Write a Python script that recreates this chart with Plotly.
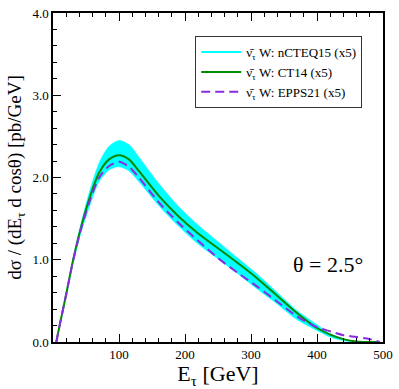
import plotly.graph_objects as go

# tau energy grid [GeV]
energy = [5, 10, 20, 30, 40, 55, 70, 85, 100, 115, 130, 160, 190, 220, 250,
          280, 310, 340, 370, 400, 420, 440, 460, 480, 495]

# nCTEQ15 band (x5), upper and lower edge
ncteq_upper = [0.0, 0.21, 0.60, 1.00, 1.36, 1.82, 2.18, 2.38, 2.45, 2.40, 2.25,
               1.93, 1.65, 1.42, 1.22, 1.02, 0.82, 0.60, 0.38, 0.21, 0.10, 0.04,
               0.0, 0.0, 0.0]
ncteq_lower = [0.0, 0.19, 0.56, 0.94, 1.26, 1.64, 1.95, 2.09, 2.13, 2.08, 1.95,
               1.66, 1.41, 1.19, 1.01, 0.83, 0.64, 0.46, 0.27, 0.14, 0.06, 0.015,
               0.0, 0.0, 0.0]

# CT14 (x5)
ct14 = [0.0, 0.20, 0.58, 0.98, 1.32, 1.74, 2.06, 2.22, 2.27, 2.22, 2.08,
        1.78, 1.53, 1.32, 1.14, 0.96, 0.77, 0.56, 0.35, 0.17, 0.09, 0.035,
        0.006, 0.0, 0.0]

# EPPS21 (x5)
epps21 = [0.0, 0.20, 0.58, 0.97, 1.30, 1.70, 2.00, 2.14, 2.19, 2.13, 2.00,
          1.70, 1.45, 1.23, 1.02, 0.84, 0.67, 0.49, 0.31, 0.18, 0.13, 0.083,
          0.06, 0.035, 0.0]

x_ticks = [100, 200, 300, 400, 500]
y_ticks = [0, 1, 2, 3, 4]
y_tick_labels = ['0.0', '1.0', '2.0', '3.0', '4.0']

FONT = 'Liberation Serif'
CYAN = '#00ffff'
GREEN = '#008b00'
PURPLE = '#8a2be2'

nubar = '\u03bd\u0304<sub>\u03c4</sub>'

fig = go.Figure()

# band: lower edge first, then upper edge filled down to it
fig.add_trace(go.Scatter(x=energy, y=ncteq_lower, mode='lines',
                         line=dict(color=CYAN, width=0.5, shape='spline', smoothing=0.8),
                         showlegend=False, hoverinfo='skip'))
fig.add_trace(go.Scatter(x=energy, y=ncteq_upper, mode='lines', fill='tonexty',
                         fillcolor=CYAN,
                         line=dict(color=CYAN, width=0.5, shape='spline', smoothing=0.8),
                         showlegend=False, hoverinfo='skip'))
# legend entry for the band, drawn as a line
fig.add_trace(go.Scatter(x=[None], y=[None], mode='lines',
                         line=dict(color=CYAN, width=2),
                         name=f'{nubar} W: nCTEQ15 (x5)'))
fig.add_trace(go.Scatter(x=energy, y=ct14, mode='lines',
                         line=dict(color=GREEN, width=2, shape='spline', smoothing=0.8),
                         name=f'{nubar} W: CT14 (x5)'))
fig.add_trace(go.Scatter(x=energy, y=epps21, mode='lines',
                         line=dict(color=PURPLE, width=2, dash='9px,5px',
                                   shape='spline', smoothing=0.8),
                         name=f'{nubar} W: EPPS21 (x5)'))

axis_common = dict(showline=True, linecolor='black', linewidth=1.5,
                   ticks='inside', ticklen=8, tickwidth=1.2, tickcolor='black',
                   showgrid=False, zeroline=False,
                   tickfont=dict(family=FONT, size=13, color='black'))

fig.update_xaxes(range=[0, 500], tickvals=x_ticks, mirror='ticks',
                 minor=dict(dtick=20, ticklen=4, tickwidth=1, tickcolor='black',
                            ticks='inside', showgrid=False),
                 title=dict(text='E<sub>\u03c4</sub> [GeV]',
                            font=dict(family=FONT, size=22, color='black'),
                            standoff=2),
                 **axis_common)
fig.update_yaxes(range=[0, 4], tickvals=y_ticks, ticktext=y_tick_labels, mirror=True,
                 minor=dict(dtick=0.2, ticklen=4, tickwidth=1, tickcolor='black',
                            ticks='inside', showgrid=False),
                 title=dict(text='d\u03c3 / (dE<sub>\u03c4</sub> d cos\u03b8) [pb/GeV]',
                            font=dict(family=FONT, size=19, color='black'),
                            standoff=6),
                 **axis_common)

fig.add_annotation(x=0.832, y=0.235, xref='paper', yref='paper',
                   xanchor='center', yanchor='middle',
                   text='\u03b8 = 2.5\u00b0', showarrow=False,
                   font=dict(family=FONT, size=22, color='black'))

fig.update_layout(width=399, height=389,
                  margin=dict(l=53, r=12, t=6, b=47),
                  paper_bgcolor='white', plot_bgcolor='white',
                  showlegend=True,
                  legend=dict(x=0.431, y=0.93, xanchor='left', yanchor='top',
                              traceorder='normal', itemwidth=40,
                              bgcolor='white', bordercolor='#333333', borderwidth=1,
                              font=dict(family=FONT, size=13, color='black'),
                              tracegroupgap=2))

# drop the default page margin so the figure sits at the window corner
fig.write_html('out.html', config={'displayModeBar': False},
               post_script="document.body.style.margin='0';")
